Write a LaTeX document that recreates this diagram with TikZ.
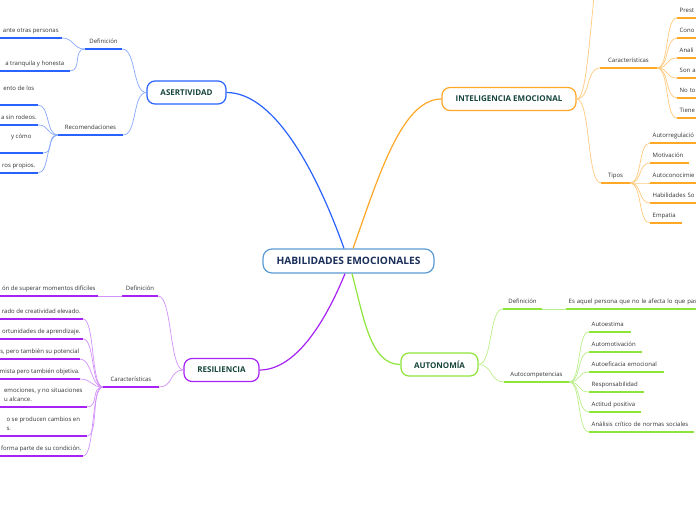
\documentclass[tikz,border=0pt]{standalone}
\usepackage{fontspec}
\setmainfont{Open Sans}

\definecolor{azul}{HTML}{2962FF}
\definecolor{naranja}{HTML}{FFA726}
\definecolor{verde}{HTML}{8EE53A}
\definecolor{morado}{HTML}{A722F5}
\definecolor{bordecentro}{HTML}{5B9BD5}
\definecolor{txtcentro}{HTML}{1A2F5A}
\definecolor{txttema}{HTML}{16453A}
\definecolor{txthoja}{HTML}{333333}

\tikzset{
  centro/.style={draw=bordecentro, line width=1.2pt, rounded corners=9pt, fill=white,
    text=txtcentro, font=\fontsize{10.2}{12}\selectfont\bfseries,
    minimum width=171pt, minimum height=24pt, inner xsep=0pt},
  tema/.style={line width=1.2pt, rounded corners=8pt, fill=white, text=txttema,
    font=\fontsize{8}{10}\selectfont\bfseries, minimum height=23pt, inner xsep=0pt},
  sub/.style={anchor=south, inner xsep=0pt, inner ysep=4.3pt, text depth=1.3pt,
    text=txthoja, font=\fontsize{6}{8.6}\selectfont},
  hoja/.style={anchor=south west, align=left, inner xsep=2.5pt, inner ysep=4.3pt,
    text depth=1.3pt, text=txthoja, font=\fontsize{6}{8.6}\selectfont},
  hojaizq/.style={anchor=south east, align=left, inner xsep=0pt, inner ysep=4.3pt,
    text depth=1.3pt, text=txthoja, font=\fontsize{6}{8.6}\selectfont},
  raya/.style={line width=1.8pt},
  rama/.style={line width=1.2pt},
  fino/.style={line width=0.7pt},
}

\begin{document}
\begin{tikzpicture}[x=1pt,y=-1pt]
  \useasboundingbox (0,0) rectangle (696,520);
  \fill[white] (0,0) rectangle (696,520);
  \clip (0,0) rectangle (696,520);

  % centro y ramas
  \node[centro] (hab) at (348.5,261) {HABILIDADES EMOCIONALES};
  \node[tema, draw=azul, minimum width=79pt] (ase) at (186.5,92.5) {ASERTIVIDAD};
  \node[tema, draw=naranja, minimum width=134pt] (ie) at (509,99) {INTELIGENCIA EMOCIONAL};
  \node[tema, draw=verde, minimum width=77pt] (aut) at (439.5,364.5) {AUTONOMÍA};
  \node[tema, draw=morado, minimum width=75pt] (res) at (221.5,370) {RESILIENCIA};

  \draw[rama, azul] (ase.east) .. controls +(50,0) and +(-25,-70) .. ([xshift=-4.5pt]hab.north);
  \draw[rama, naranja] (ie.west) .. controls +(-40,0) and +(25,-70) .. ([xshift=4.5pt]hab.north);
  \draw[rama, morado] (res.east) .. controls +(40,0) and +(-15,37) .. ([xshift=-3.5pt]hab.south);
  \draw[rama, verde] (aut.west) .. controls +(-30,0) and +(12,45) .. ([xshift=3.5pt]hab.south);

  % asertividad
  \node[sub, minimum width=37pt] (defA) at (103.5,49) {Definición};
  \node[sub, minimum width=65pt] (recA) at (90.5,135) {Recomendaciones};
  \node[hojaizq, minimum width=62pt] (a1) at (62,38) {ante otras personas};
  \node[hojaizq, minimum width=70pt] (a2) at (70,71) {a tranquila y honesta};
  \node[hojaizq, minimum width=38pt] (a3) at (38,105) {ento de los\\\mbox{}};
  \node[hojaizq, minimum width=38pt] (a4) at (38,125) {a sin rodeos.};
  \node[hojaizq, minimum width=43pt] (a5) at (43,153) {y cómo\\\mbox{}};
  \node[hojaizq, minimum width=38pt] (a6) at (38,173) {ros propios.};
  \foreach \n in {defA,recA,a1,a2,a3,a4,a5,a6}
    \draw[raya, azul] (\n.south west) -- (\n.south east);
  \draw[fino, azul!55] (ase.west) .. controls +(-14,0) and +(14,0) .. (defA.south east);
  \draw[fino, azul!55] (ase.west) .. controls +(-14,0) and +(14,0) .. (recA.south east);
  \foreach \n in {a1,a2}
    \draw[fino, azul!55] (defA.south west) .. controls +(-12,0) and +(12,0) .. (\n.south east);
  \foreach \n in {a3,a4,a5,a6}
    \draw[fino, azul!55] (recA.south west) .. controls +(-12,0) and +(12,0) .. (\n.south east);

  % inteligencia emocional
  \coordinate (ieArriba) at (605,-100);
  \node[sub, minimum width=57pt] (carI) at (628.5,68) {Características};
  \node[sub, minimum width=29pt] (tip) at (615.5,183) {Tipos};
  \node[hoja, text width=40pt] (i1) at (677,18) {Prest};
  \node[hoja, text width=40pt] (i2) at (677,38) {Cono};
  \node[hoja, text width=40pt] (i3) at (677,58) {Anali};
  \node[hoja, text width=40pt] (i4) at (677,78) {Son a};
  \node[hoja, text width=40pt] (i5) at (677,98) {No to};
  \node[hoja, text width=40pt] (i6) at (677,118) {Tiene};
  \node[hoja, text width=60pt] (t1) at (650,143) {Autorregulació};
  \node[hoja, text width=34pt] (t2) at (650,163) {Motivación};
  \node[hoja, text width=60pt] (t3) at (650,183) {Autoconocimie};
  \node[hoja, text width=60pt] (t4) at (650,203) {Habilidades So};
  \node[hoja, text width=27pt] (t5) at (650,223) {Empatia};
  \foreach \n in {carI,tip,i1,i2,i3,i4,i5,i6,t1,t2,t3,t4,t5}
    \draw[raya, naranja] (\n.south west) -- (\n.south east);
  \draw[fino, naranja!60] (ie.east) .. controls +(12,0) and +(-16,120) .. (ieArriba);
  \draw[fino, naranja!60] (ie.east) .. controls +(14,0) and +(-14,0) .. (carI.south west);
  \draw[fino, naranja!60] (ie.east) .. controls +(14,0) and +(-14,0) .. (tip.south west);
  \foreach \n in {i1,i2,i3,i4,i5,i6}
    \draw[fino, naranja!60] (carI.south east) .. controls +(12,0) and +(-12,0) .. (\n.south west);
  \foreach \n in {t1,t2,t3,t4,t5}
    \draw[fino, naranja!60] (tip.south east) .. controls +(12,0) and +(-12,0) .. (\n.south west);

  % autonomia
  \node[sub, minimum width=39pt] (defU) at (522.5,309) {Definición};
  \node[hoja, text width=150pt] (esU) at (566,309) {Es aquel persona que no le afecta lo que pasa};
  \node[sub, minimum width=65pt] (comU) at (536.5,382) {Autocompetencias};
  \node[hoja, text width=37pt] (u1) at (589,332) {Autoestima};
  \node[hoja, text width=48pt] (u2) at (589,352) {Automotivación};
  \node[hoja, text width=70pt] (u3) at (589,372) {Autoeficacia emocional};
  \node[hoja, text width=50pt] (u4) at (589,392) {Responsabilidad};
  \node[hoja, text width=47pt] (u5) at (589,412) {Actitud positiva};
  \node[hoja, text width=100pt] (u6) at (589,432) {Análisis crítico de normas sociales};
  \foreach \n in {defU,esU,comU,u1,u2,u3,u4,u5,u6}
    \draw[raya, verde] (\n.south west) -- (\n.south east);
  \draw[fino, verde!60] (aut.east) .. controls +(14,0) and +(-14,0) .. (defU.south west);
  \draw[fino, verde!60] (aut.east) .. controls +(14,0) and +(-14,0) .. (comU.south west);
  \draw[fino, verde!60] (defU.south east) -- (esU.south west);
  \foreach \n in {u1,u2,u3,u4,u5,u6}
    \draw[fino, verde!60] (comU.south east) .. controls +(12,0) and +(-12,0) .. (\n.south west);

  % resiliencia
  \node[sub, minimum width=36pt] (defR) at (140,296) {Definición};
  \node[hojaizq, minimum width=98pt] (r0) at (98,296) {ón de superar momentos difíciles};
  \node[sub, minimum width=56pt] (carR) at (131,387) {Características};
  \node[hojaizq, minimum width=83pt] (r1) at (83,319) {rado de creatividad elevado.};
  \node[hojaizq, minimum width=83pt] (r2) at (83,339) {ortunidades de aprendizaje.};
  \node[hojaizq, minimum width=80pt] (r3) at (80,359) {s, pero también su potencial};
  \node[hojaizq, minimum width=80pt] (r4) at (80,379) {mista pero también objetiva.};
  \node[hojaizq, minimum width=87pt] (r5) at (87,407) {emociones, y no situaciones\\u alcance.};
  \node[hojaizq, minimum width=87pt] (r6) at (87,436) {o se producen cambios en\\s.};
  \node[hojaizq, minimum width=83pt] (r7) at (83,456) {forma parte de su condición.};
  \foreach \n in {defR,carR,r0,r1,r2,r3,r4,r5,r6,r7}
    \draw[raya, morado] (\n.south west) -- (\n.south east);
  \draw[fino, morado!50] (res.west) .. controls +(-14,0) and +(14,0) .. (defR.south east);
  \draw[fino, morado!50] (res.west) .. controls +(-14,0) and +(14,0) .. (carR.south east);
  \draw[fino, morado!50] (defR.south west) -- (r0.south east);
  \foreach \n in {r1,r2,r3,r4,r5,r6,r7}
    \draw[fino, morado!50] (carR.south west) .. controls +(-12,0) and +(12,0) .. (\n.south east);
\end{tikzpicture}
\end{document}
